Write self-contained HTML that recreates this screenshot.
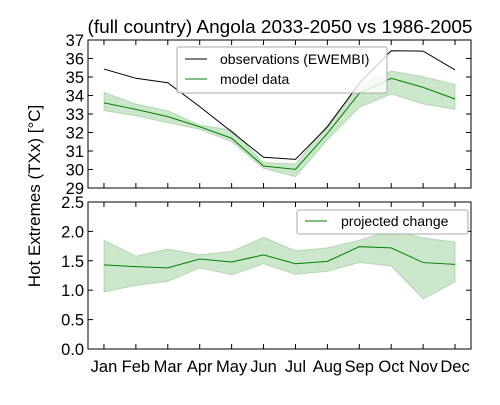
<!DOCTYPE html>
<html><head><meta charset="utf-8"><style>
body{margin:0;background:#fff}
svg text{font-family:"Liberation Sans","DejaVu Sans",sans-serif}
</style></head><body>
<svg id="c" width="500" height="400" xmlns="http://www.w3.org/2000/svg"></svg>
<script>
const months=["Jan","Feb","Mar","Apr","May","Jun","Jul","Aug","Sep","Oct","Nov","Dec"];
const obs=[35.43,34.93,34.69,33.4,32.04,30.66,30.55,32.3,34.66,36.42,36.4,35.38];
const model=[33.6,33.25,32.86,32.31,31.69,30.19,30.01,31.95,34.12,34.93,34.44,33.81];
const modelHi=[34.17,33.54,33.18,32.4,32.14,30.37,30.3,32.4,34.57,35.32,35.02,34.6];
const modelLo=[33.18,32.9,32.53,32.17,31.5,30.06,29.61,31.6,33.36,34.08,33.54,33.25];
const change=[1.43,1.4,1.38,1.53,1.48,1.6,1.45,1.49,1.74,1.72,1.47,1.44];
const changeHi=[1.85,1.58,1.7,1.6,1.66,1.9,1.67,1.72,1.85,2.02,1.89,1.82];
const changeLo=[0.97,1.08,1.15,1.38,1.26,1.45,1.27,1.32,1.47,1.41,0.85,1.14];
const topTicks=[29,30,31,32,33,34,35,36,37];
const botTicks=["0.0","0.5","1.0","1.5","2.0","2.5"];

const svg=document.getElementById('c');
const NS="http://www.w3.org/2000/svg";
function mk(t,a,p){const e=document.createElementNS(NS,t);for(const k in a)e.setAttribute(k,a[k]);(p||svg).appendChild(e);return e;}
const L=88,R=471;
const x=i=>L+(i+0.5)*(R-L)/12;
const yT=v=>188-(v-29)*(148/8);
const yB=v=>349-v*(147/2.5);

function panel(name){
  const g=mk('g',{});
  
  
  return g;
}
function band(g,hi,lo,ys,name){
  let d="M"+hi.map((v,i)=>x(i)+","+ys(v)).join("L")+"L"+lo.map((v,i)=>[i,v]).reverse().map(([i,v])=>x(i)+","+ys(v)).join("L")+"Z";
  const p=mk('path',{d:d,fill:"#008000","fill-opacity":"0.2",stroke:"#008000","stroke-opacity":"0.2"},g);
  
  
}
function line(g,vals,ys,col,name){
  const p=mk('polyline',{points:vals.map((v,i)=>x(i)+","+ys(v)).join(" "),fill:"none",stroke:col,"stroke-width":1},g);
  
  
}
function axes(g,top,bot,ys,ticks,name){
  for(let i=0;i<12;i++){
    mk('line',{x1:x(i),x2:x(i),y1:bot,y2:bot-5,stroke:"#000"},g);
    mk('line',{x1:x(i),x2:x(i),y1:top,y2:top+5,stroke:"#000"},g);
  }
  ticks.forEach(t=>{const y=ys(+t);
    mk('line',{x1:L,x2:L+5,y1:y,y2:y,stroke:"#000"},g);
    mk('line',{x1:R,x2:R-5,y1:y,y2:y,stroke:"#000"},g);
    const tx=mk('text',{x:L-4,y:y+6,"text-anchor":"end","font-size":16.5},g);tx.textContent=t;
    
    
  });
  const r=mk('rect',{x:L,y:top,width:R-L,height:bot-top,fill:"none",stroke:"#000"},g);
  
  
}
const g1=panel('top-panel');
band(g1,modelHi,modelLo,yT,'model-band');
line(g1,obs,yT,"#000",'observations-line');
line(g1,model,yT,"#008000",'model-line');
axes(g1,40,188,yT,topTicks,'top-y');
const lg1=mk('g',{},g1);


mk('rect',{x:177,y:47,width:210,height:46,fill:"#fff","fill-opacity":"0.8",stroke:"#aaa",rx:2},lg1);
mk('line',{x1:185,x2:207,y1:59,y2:59,stroke:"#000"},lg1);
mk('line',{x1:185,x2:207,y1:79,y2:79,stroke:"#008000"},lg1);
let t=mk('text',{x:220,y:64,"font-size":14},lg1);t.textContent="observations (EWEMBI)";
t=mk('text',{x:220,y:84,"font-size":14},lg1);t.textContent="model data";

const g2=panel('bottom-panel');
band(g2,changeHi,changeLo,yB,'change-band');
line(g2,change,yB,"#008000",'change-line');
axes(g2,202,349,yB,botTicks,'bottom-y');
months.forEach((m,i)=>{const tx=mk('text',{x:x(i),y:372,"text-anchor":"middle","font-size":16.5},g2);tx.textContent=m;
  
  });
const lg2=mk('g',{},g2);


mk('rect',{x:297,y:210,width:171,height:24,fill:"#fff","fill-opacity":"0.8",stroke:"#aaa",rx:2},lg2);
mk('line',{x1:305,x2:327,y1:221,y2:221,stroke:"#008000"},lg2);
t=mk('text',{x:341,y:226,"font-size":14},lg2);t.textContent="projected change";

t=mk('text',{x:280,y:33,"text-anchor":"middle","font-size":18,textLength:385,lengthAdjust:"spacingAndGlyphs"});t.textContent="(full country) Angola 2033-2050 vs 1986-2005";

t=mk('text',{x:0,y:0,"text-anchor":"middle","font-size":17,transform:"translate(40,196) rotate(-90)"});t.textContent="Hot Extremes (TXx) [°C]";

</script>
</body></html>
